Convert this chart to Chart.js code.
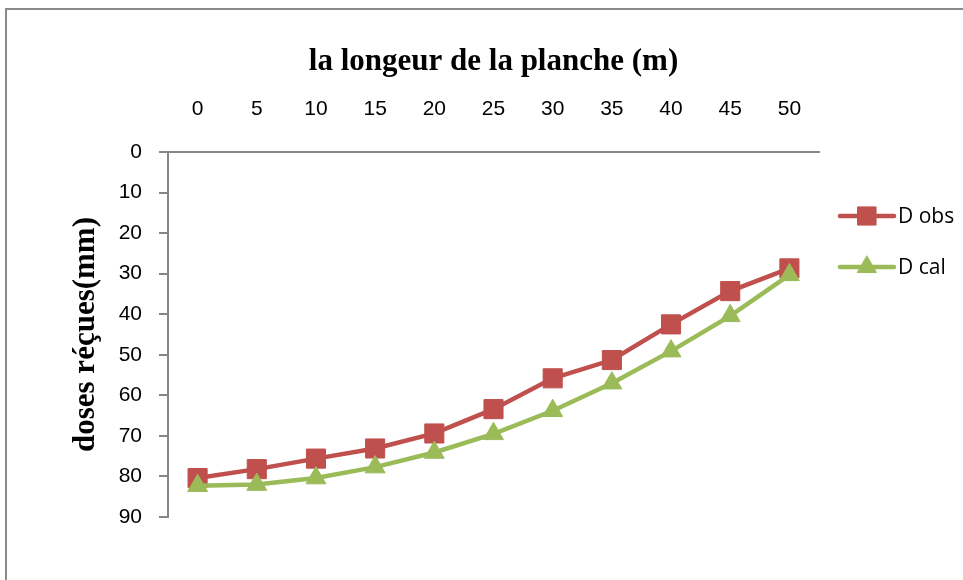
<!DOCTYPE html>
<html>
<head>
<meta charset="utf-8">
<script src="https://cdn.jsdelivr.net/npm/chart.js@4.4.1/dist/chart.umd.min.js"></script>
<style>
  html, body { margin: 0; padding: 0; background: #fff; width: 963px; height: 580px; overflow: hidden; }
  #frame { position: absolute; left: 5px; top: 8px; width: 1000px; height: 620px;
           border-left: 2px solid #8a8a8a; border-top: 2px solid #8a8a8a; }
  #wrap { position: absolute; left: 0; top: 0; width: 963px; height: 580px; }
</style>
</head>
<body>
<div id="frame"></div>
<div id="wrap"><canvas id="chart"></canvas></div>
<script>
// Plank length (m) along the furrow
const lengths = ['0', '5', '10', '15', '20', '25', '30', '35', '40', '45', '50'];
// Applied depth (mm): observed and calculated
const doseObs = [80.4, 78.2, 75.6, 73.1, 69.4, 63.4, 55.8, 51.3, 42.5, 34.3, 28.7];
const doseCal = [82.3, 82.0, 80.4, 77.7, 74.1, 69.5, 63.8, 57.0, 49.1, 40.4, 30.3];
const seriesNames = ['D obs', 'D cal'];
const depthMin = 0, depthMax = 90, depthStep = 10;

const axisGrey = '#868686';
const red = '#C0504D';
const green = '#9BBB59';

// Legend drawn as line + marker, like a spreadsheet legend
const lineLegend = {
  id: 'lineLegend',
  afterDraw(chart) {
    const ctx = chart.ctx;
    const area = chart.chartArea;
    const x0 = area.right + 21;
    const rows = [area.top + 64, area.top + 115];
    chart.data.datasets.forEach((ds, i) => {
      const y = rows[i];
      ctx.save();
      ctx.strokeStyle = ds.borderColor;
      ctx.lineWidth = ds.borderWidth;
      ctx.lineCap = 'round';
      ctx.beginPath();
      ctx.moveTo(x0, y);
      ctx.lineTo(x0 + 54, y);
      ctx.stroke();
      ctx.fillStyle = ds.pointBackgroundColor;
      ctx.strokeStyle = ds.pointBorderColor;
      ctx.lineWidth = 1;
      Chart.helpers.drawPoint(ctx, { pointStyle: ds.pointStyle, radius: ds.pointRadius * 0.95, borderWidth: 1 }, x0 + 27, y);
      ctx.fillStyle = '#000';
      ctx.font = '21px "Open Sans", sans-serif';
      ctx.textBaseline = 'middle';
      ctx.textAlign = 'left';
      ctx.fillText(ds.label, x0 + 58, y + 1);
      ctx.restore();
    });
  }
};

new Chart(document.getElementById('chart'), {
  type: 'line',
  data: {
    labels: lengths,
    datasets: [
      {
        label: seriesNames[0],
        data: doseObs,
        borderColor: red,
        backgroundColor: red,
        borderWidth: 4.5,
        pointStyle: 'rect',
        pointRadius: 13.5,
        pointBackgroundColor: red,
        pointBorderColor: red,
        pointBorderWidth: 1,
        tension: 0,
        order: 2
      },
      {
        label: seriesNames[1],
        data: doseCal,
        borderColor: green,
        backgroundColor: green,
        borderWidth: 4.5,
        pointStyle: 'triangle',
        pointRadius: 11.5,
        pointBackgroundColor: green,
        pointBorderColor: green,
        pointBorderWidth: 1,
        tension: 0,
        order: 1
      }
    ]
  },
  options: {
    responsive: true,
    maintainAspectRatio: false,
    animation: false,
    layout: { padding: { left: 10, top: 20, right: 144, bottom: 63 } },
    plugins: {
      legend: { display: false },
      tooltip: { enabled: false }
    },
    scales: {
      x: {
        position: 'top',
        offset: true,
        grid: { display: false },
        border: { display: true, color: axisGrey, width: 2 },
        ticks: { color: '#000', padding: 22, font: { family: 'Liberation Sans, Arial, sans-serif', size: 21 } },
        title: {
          display: true,
          text: 'la longeur de la planche (m)',
          color: '#000',
          padding: { top: 23, bottom: 0 },
          font: { family: 'Liberation Serif, Times New Roman, serif', size: 31, weight: 'bold' }
        },
        afterFit(scale) { scale.height = 132; }
      },
      y: {
        reverse: true,
        min: depthMin,
        max: depthMax,
        grid: { display: true, drawOnChartArea: false, drawTicks: true, tickLength: 9, color: axisGrey, lineWidth: 2 },
        border: { display: true, color: axisGrey, width: 2 },
        ticks: { stepSize: depthStep, color: '#000', padding: 17, font: { family: 'Liberation Sans, Arial, sans-serif', size: 21 } },
        title: {
          display: true,
          text: 'doses réçues(mm)',
          color: '#000',
          padding: { top: 57, bottom: 0 },
          font: { family: 'Liberation Serif, Times New Roman, serif', size: 31, weight: 'bold' }
        },
        afterFit(scale) { scale.width = 158; }
      }
    }
  },
  plugins: [lineLegend]
});
</script>
</body>
</html>
